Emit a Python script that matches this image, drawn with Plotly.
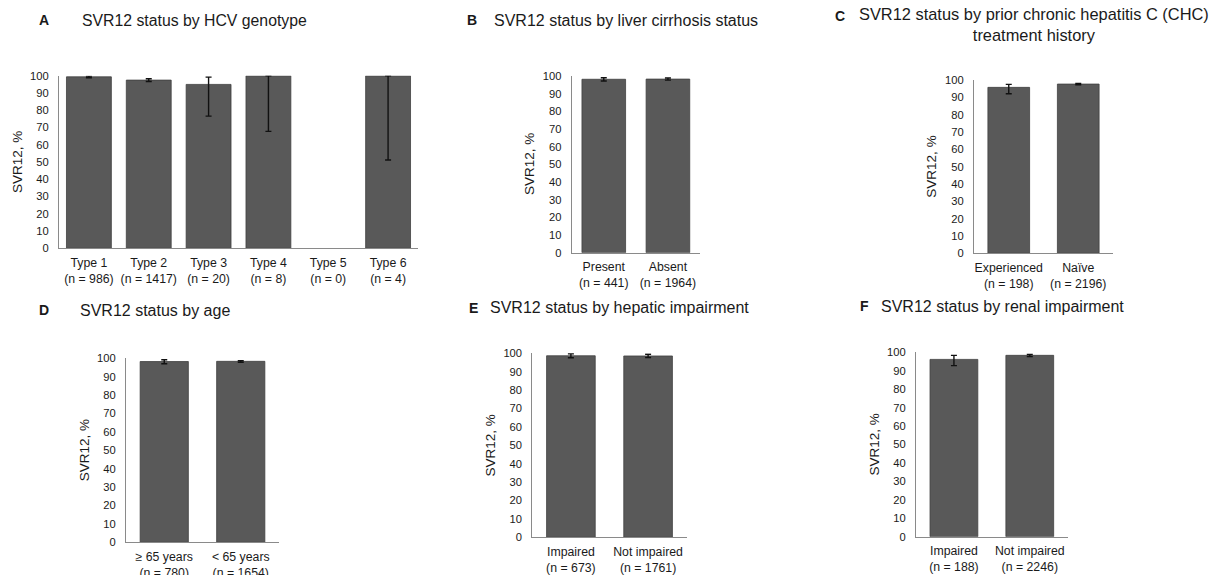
import plotly.graph_objects as go

W, H = 1211, 575

# ---------------- data ----------------
a_cats = ["Type 1", "Type 2", "Type 3", "Type 4", "Type 5", "Type 6"]
a_n = [986, 1417, 20, 8, 0, 4]
a_svr = [99.4, 97.5, 95.0, 100, None, 100]
a_up = [0.4, 0.8, 4.2, 0.0, 0.0, 0.0]
a_lo = [0.5, 0.8, 18.4, 32.2, 0.0, 48.8]

b_cats = ["Present", "Absent"]
b_n = [441, 1964]
b_svr = [98.2, 98.3]
b_up = [0.9, 0.6]
b_lo = [1.0, 0.6]

c_cats = ["Experienced", "Naïve"]
c_n = [198, 2196]
c_svr = [95.8, 97.7]
c_up = [1.7, 0.4]
c_lo = [3.7, 0.4]

d_cats = ["≥ 65 years", "< 65 years"]
d_n = [780, 1654]
d_svr = [98.3, 98.4]
d_up = [1.0, 0.4]
d_lo = [1.2, 0.5]

e_cats = ["Impaired", "Not impaired"]
e_n = [673, 1761]
e_svr = [98.7, 98.6]
e_up = [1.1, 0.9]
e_lo = [1.1, 0.8]

f_cats = ["Impaired", "Not impaired"]
f_n = [188, 2246]
f_svr = [96.2, 98.4]
f_up = [2.2, 0.5]
f_lo = [3.4, 0.6]

y_ticks = [0, 10, 20, 30, 40, 50, 60, 70, 80, 90, 100]

titles = [
    ("A", "SVR12 status by HCV genotype"),
    ("B", "SVR12 status by liver cirrhosis status"),
    ("C", "SVR12 status by prior chronic hepatitis C (CHC)<br>treatment history"),
    ("D", "SVR12 status by age"),
    ("E", "SVR12 status by hepatic impairment"),
    ("F", "SVR12 status by renal impairment"),
]

# ---------------- layout geometry (pixels) ----------------
# (x_left, x_right, y_top(100), y_bottom(0), bar width fraction)
panels = [
    (59, 418, 75.7, 248.3, 0.75),
    (571.7, 700, 76, 252.7, 0.68),
    (974, 1113, 80, 253.3, 0.60),
    (126, 279, 358.3, 542.3, 0.63),
    (532.3, 686.7, 353.3, 537.3, 0.63),
    (916, 1067.7, 352.3, 536.7, 0.63),
]
# (letter x, letter y, title x, title y, title anchor, title size)
title_pos = [
    (37, 20, 80, 20, "left", 15.8),
    (465, 20, 491.7, 20, "left", 16),
    (833, 16, 1034, 25, "center", 16.4),
    (37, 310, 78.3, 310, "left", 16),
    (466.7, 307.5, 488.3, 307.5, "left", 16),
    (858, 306, 879.3, 306, "left", 16),
]

data_sets = [
    (a_cats, a_n, a_svr, a_up, a_lo),
    (b_cats, b_n, b_svr, b_up, b_lo),
    (c_cats, c_n, c_svr, c_up, c_lo),
    (d_cats, d_n, d_svr, d_up, d_lo),
    (e_cats, e_n, e_svr, e_up, e_lo),
    (f_cats, f_n, f_svr, f_up, f_lo),
]

FONT = "Liberation Sans, Arial, sans-serif"
BAR = "#595959"
AXIS = "#8a8a8a"
TXT = "#1a1a1a"

fig = go.Figure()
annotations = []
layout_axes = {}

for i, ((cats, ns, svr, up, lo), (x0, x1, yt, yb, bw), (lx, ly, tx, ty, anc, tsz), (letter, ttl)) in enumerate(
        zip(data_sets, panels, title_pos, titles)):
    k = "" if i == 0 else str(i + 1)
    labels = [f"{c}<br>(n = {n})" for c, n in zip(cats, ns)]
    fig.add_trace(go.Bar(
        x=labels, y=svr,
        xaxis="x" + k, yaxis="y" + k,
        width=bw,
        marker=dict(color=BAR, line=dict(color="#404040", width=0.8)),
        error_y=dict(type="data", symmetric=False, array=up, arrayminus=lo,
                     color="#111111", thickness=1.4, width=3),
        cliponaxis=False,
        showlegend=False,
        hovertemplate="%{x}: %{y}%<extra></extra>",
    ))
    layout_axes["xaxis" + k] = dict(
        domain=[x0 / W, x1 / W], anchor="y" + k,
        type="category", categoryorder="array", categoryarray=labels,
        range=[-0.5, len(cats) - 0.5],
        showline=True, linecolor=AXIS, linewidth=1,
        showgrid=False, zeroline=False, ticks="",
        tickfont=dict(family=FONT, size=12.3, color=TXT),
        ticklabelstandoff=3,
        automargin=False,
        fixedrange=True,
    )
    layout_axes["yaxis" + k] = dict(
        domain=[1 - yb / H, 1 - yt / H], anchor="x" + k,
        range=[0, 100.05], tickvals=y_ticks,
        showline=True, linecolor=AXIS, linewidth=1,
        showgrid=False, zeroline=False, ticks="",
        tickfont=dict(family=FONT, size=11.2, color=TXT),
        ticklabelstandoff=7,
        automargin=False,
        fixedrange=True,
    )
    annotations.append(dict(
        xref="paper", yref="paper", x=(x0 - 42) / W, y=1 - (yt + yb) / 2 / H,
        text="SVR12, %", textangle=-90, showarrow=False,
        xanchor="center", yanchor="middle",
        font=dict(family=FONT, size=13.5, color=TXT),
    ))
    annotations.append(dict(
        xref="paper", yref="paper", x=lx / W, y=1 - ly / H,
        text=f"<b>{letter}</b>", showarrow=False,
        xanchor="left", yanchor="middle",
        font=dict(family=FONT, size=14, color=TXT),
    ))
    annotations.append(dict(
        xref="paper", yref="paper", x=tx / W, y=1 - ty / H,
        text=ttl, showarrow=False, align="center",
        xanchor=anc, yanchor="middle",
        font=dict(family=FONT, size=tsz, color=TXT),
    ))

fig.update_layout(
    width=W, height=H,
    autosize=False,
    margin=dict(l=0, r=0, t=0, b=0, pad=0, autoexpand=False),
    paper_bgcolor="white", plot_bgcolor="white",
    annotations=annotations,
    font=dict(family=FONT, color=TXT),
    **layout_axes,
)

post = (
    "document.documentElement.style.margin='0';"
    "document.documentElement.style.overflow='hidden';"
    "document.body.style.margin='0';document.body.style.padding='0';"
    "document.body.style.overflow='hidden';"
)

fig.write_html("out.html", config={"displayModeBar": False}, post_script=post)
